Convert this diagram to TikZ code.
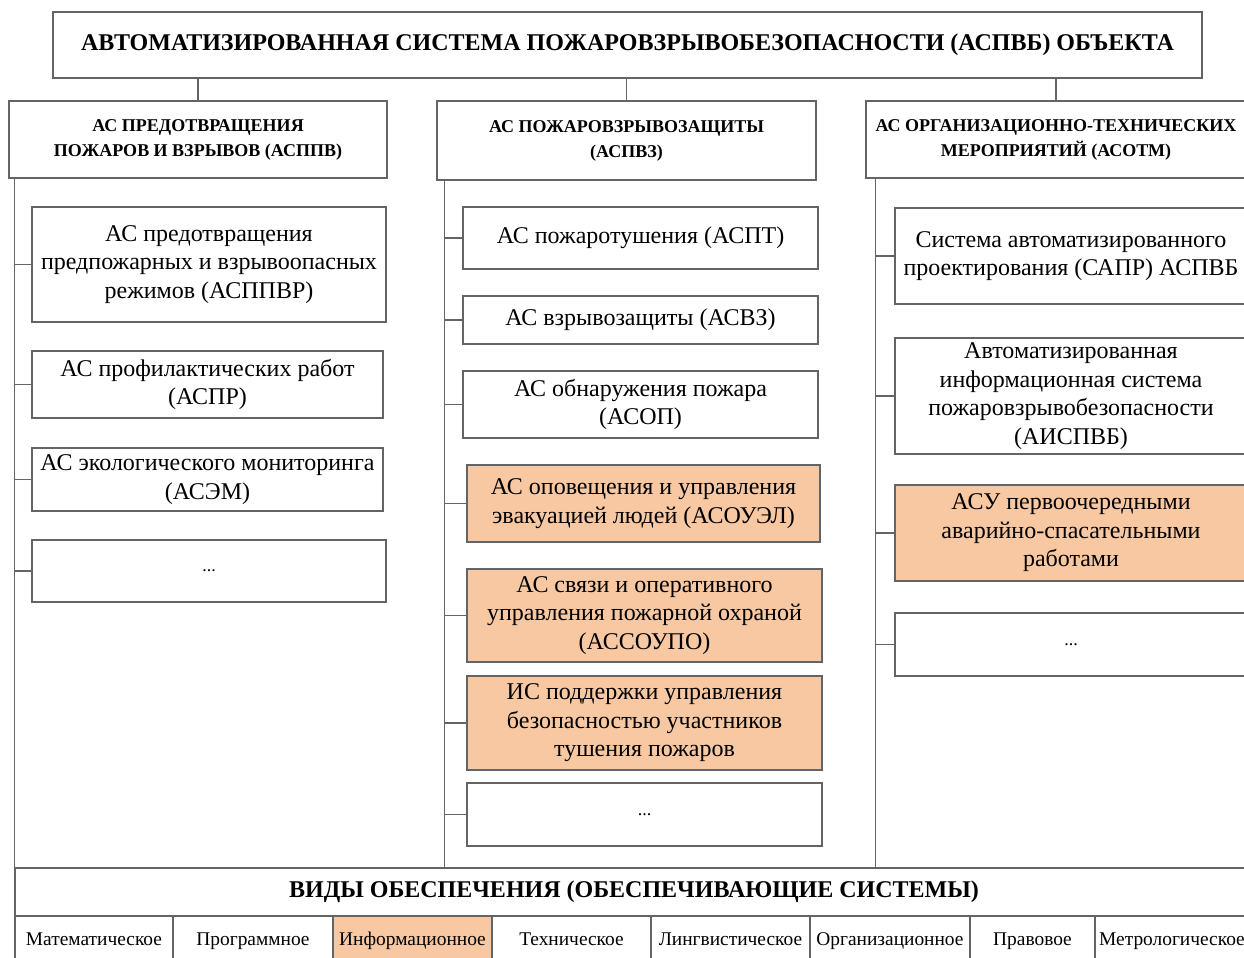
\documentclass[tikz,border=0pt]{standalone}
\usepackage{fontspec}
\setmainfont{Liberation Serif}
\usetikzlibrary{calc}

\definecolor{hotfill}{RGB}{248,200,162}
\definecolor{linegray}{RGB}{100,100,100}
\tikzset{
  span/.style n args={4}{at={({(#1+#3)/2},{(#2+#4)/2})},
    minimum width={(#3-#1)*0.5pt}, minimum height={(#4-#2)*0.5pt}},
  box/.style={draw=linegray, line width=0.7pt, inner sep=0pt, align=center,
    font=\fontsize{12}{14.3}\selectfont},
  hotbox/.style={box, fill=hotfill},
  headbox/.style={box, font=\fontsize{9}{12.5}\selectfont\bfseries},
  dotsbox/.style={box, font=\fontsize{9}{11}\selectfont},
  cell/.style={box, font=\fontsize{9.7}{12}\selectfont, text height=6.8pt, text depth=1.2pt},
  link/.style={draw=linegray, line width=0.7pt}
}

\begin{document}
\begin{tikzpicture}[x=0.5pt,y=-0.5pt]
  \useasboundingbox (0,0) rectangle (1244,958);
  \clip (0,0) rectangle (1244,958);
  % Whole system
  \node[box, font=\fontsize{12}{14}\selectfont\bfseries, span={53}{12}{1202}{78}] (top)
    {АВТОМАТИЗИРОВАННАЯ СИСТЕМА ПОЖАРОВЗРЫВОБЕЗОПАСНОСТИ (АСПВБ) ОБЪЕКТА};
  % Subsystems
  \node[headbox, span={9}{101}{387}{178}] (hL) {АС ПРЕДОТВРАЩЕНИЯ\\ПОЖАРОВ И ВЗРЫВОВ (АСППВ)};
  \node[headbox, span={437}{101}{816}{180}] (hM) {АС ПОЖАРОВЗРЫВОЗАЩИТЫ\\(АСПВЗ)};
  \node[headbox, span={866}{101}{1246}{178}] (hR) {АС ОРГАНИЗАЦИОННО-ТЕХНИЧЕСКИХ\\МЕРОПРИЯТИЙ (АСОТМ)};
  \draw[link] (hL.north) -- (hL.north |- top.south);
  \draw[link] (hM.north) -- (hM.north |- top.south);
  \draw[link] (hR.north) -- (hR.north |- top.south);
  % Left column
  \node[box, span={32}{207}{386}{322}] (l1) {АС предотвращения\\предпожарных и взрывоопасных\\режимов (АСППВР)};
  \node[box, span={32}{351}{383}{418}] (l2) {АС профилактических работ\\(АСПР)};
  \node[box, span={32}{448}{383}{511}] (l3) {АС экологического мониторинга\\(АСЭМ)};
  \node[dotsbox, span={32}{540}{386}{602}] (l4) {...};
  % Middle column
  \node[box, span={463}{207}{818}{269}] (m1) {АС пожаротушения (АСПТ)};
  \node[box, span={463}{296}{818}{344}] (m2) {АС взрывозащиты (АСВЗ)};
  \node[box, span={463}{371}{818}{438}] (m3) {АС обнаружения пожара\\(АСОП)};
  \node[hotbox, span={467}{465}{820}{542}] (m4) {АС оповещения и управления\\эвакуацией людей (АСОУЭЛ)};
  \node[hotbox, span={467}{569}{822}{662}] (m5) {АС связи и оперативного\\управления пожарной охраной\\(АССОУПО)};
  \node[hotbox, span={467}{676}{822}{770}] (m6) {ИС поддержки управления\\безопасностью участников\\тушения пожаров};
  \node[dotsbox, span={467}{783}{822}{846}] (m7) {...};
  % Right column
  \node[box, span={895}{208}{1247}{304}] (r1) {Система автоматизированного\\проектирования (САПР) АСПВБ};
  \node[box, span={895}{338}{1247}{454}] (r2) {Автоматизированная\\информационная система\\пожаровзрывобезопасности\\(АИСПВБ)};
  \node[hotbox, span={895}{485}{1247}{581}] (r3) {АСУ первоочередными\\аварийно-спасательными\\работами};
  \node[dotsbox, span={895}{613}{1247}{676}] (r4) {...};
  % Supporting systems
  \node[box, font=\fontsize{12}{14}\selectfont\bfseries, span={15}{868}{1253}{916}] (vo)
    {ВИДЫ ОБЕСПЕЧЕНИЯ (ОБЕСПЕЧИВАЮЩИЕ СИСТЕМЫ)};
  \node[cell, span={15}{916}{173}{964}] (s1) {Математическое};
  \node[cell, span={173}{916}{333}{964}] (s2) {Программное};
  \node[cell, fill=hotfill, span={333}{916}{492}{964}] (s3) {Информационное};
  \node[cell, span={492}{916}{651}{964}] (s4) {Техническое};
  \node[cell, span={651}{916}{810}{964}] (s5) {Лингвистическое};
  \node[cell, span={810}{916}{970}{964}] (s6) {Организационное};
  \node[cell, span={970}{916}{1095}{964}] (s7) {Правовое};
  \node[cell, span={1095}{916}{1249}{964}] (s8) {Метрологическое};
  % Trunks
  \coordinate (tL) at ($(hL.south west)+(6,0)$);
  \coordinate (tM) at ($(hM.south west)+(8,0)$);
  \coordinate (tR) at ($(hR.south west)+(10,0)$);
  \draw[link] (tL) -- (tL |- vo.north);
  \draw[link] (tM) -- (tM |- vo.north);
  \draw[link] (tR) -- (tR |- vo.north);
  % Branches
  \draw[link] (l1.west) -- (l1.west -| tL);
  \draw[link] (l2.west) -- (l2.west -| tL);
  \draw[link] (l3.west) -- (l3.west -| tL);
  \draw[link] (l4.west) -- (l4.west -| tL);
  \draw[link] (m1.west) -- (m1.west -| tM);
  \draw[link] (m2.west) -- (m2.west -| tM);
  \draw[link] (m3.west) -- (m3.west -| tM);
  \draw[link] (m4.west) -- (m4.west -| tM);
  \draw[link] (m5.west) -- (m5.west -| tM);
  \draw[link] (m6.west) -- (m6.west -| tM);
  \draw[link] (m7.west) -- (m7.west -| tM);
  \draw[link] (r1.west) -- (r1.west -| tR);
  \draw[link] (r2.west) -- (r2.west -| tR);
  \draw[link] (r3.west) -- (r3.west -| tR);
  \draw[link] (r4.west) -- (r4.west -| tR);
\end{tikzpicture}
\end{document}
